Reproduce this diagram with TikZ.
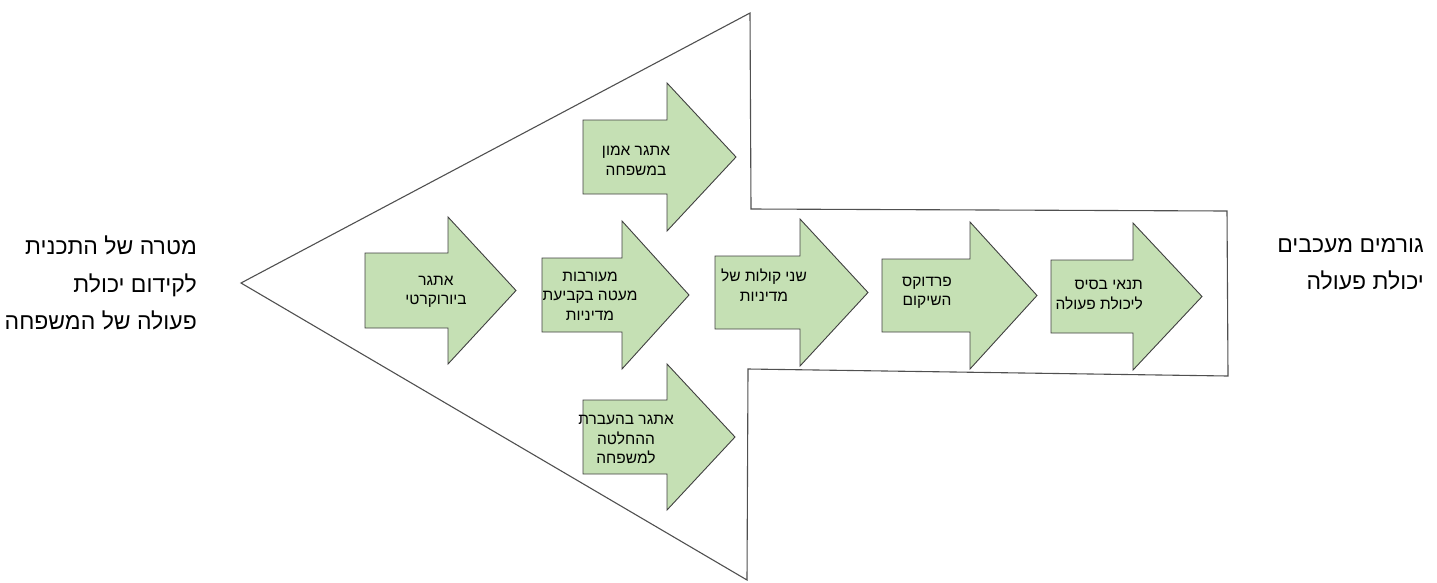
\documentclass[tikz,border=0pt]{standalone}
\usepackage{fontspec}
\TeXXeTstate=1
\newfontfamily\hebfont[Script=Hebrew]{Liberation Sans}
\newcommand{\heb}[1]{{\hebfont\beginR #1\endR}}
\definecolor{arrowgreen}{HTML}{C5E0B4}
\definecolor{arrowline}{HTML}{404040}
\definecolor{outlinegray}{HTML}{505050}
\tikzset{
  blockarrow/.style={fill=arrowgreen, draw=arrowline, line width=0.9pt, line join=miter},
  bigoutline/.style={draw=outlinegray, line width=1.1pt, line join=miter},
  intext/.style={inner sep=0pt, align=center, font=\hebfont\fontsize{15.5}{19.5}\selectfont},
  sidetext/.style={inner sep=0pt, align=right, anchor=east, font=\hebfont\fontsize{23}{37.5}\selectfont}
}
% #1 left, #2 head start, #3 tip, #4 top, #5 body top, #6 body bottom, #7 bottom
\newcommand{\barrow}[7]{%
  \path[blockarrow] (#1,#5) -- (#2,#5) -- (#2,#4) -- (#3,{(#4+#7)/2}) -- (#2,#7) -- (#2,#6) -- (#1,#6) -- cycle;}
\begin{document}
\begin{tikzpicture}[x=1pt,y=-1pt]
\useasboundingbox (0,0) rectangle (1437,582);
% big outline arrow
\coordinate (tip) at (241,283);
\coordinate (topv) at (750,13);
\coordinate (topin) at (751,209);
\coordinate (tr) at (1227,211);
\coordinate (br) at (1228,376);
\coordinate (botin) at (748,369);
\coordinate (botv) at (747,580);
\path[bigoutline] (tip) -- (topv) -- (topin) -- (tr) -- (br) -- (botin) -- (botv) -- cycle;
% block arrows
\barrow{365}{448}{516}{217}{253}{328}{364}
\barrow{542}{622}{689}{221}{258}{332}{369}
\barrow{583}{667}{736}{83}{120}{194}{231}
\barrow{583}{667}{735}{364}{400}{474}{510}
\barrow{715}{800}{868}{219}{256}{329}{366}
\barrow{882}{970}{1037}{222}{259}{332}{369}
\barrow{1051}{1133}{1202}{223}{260}{333}{370}
% texts
\node[intext] (t1) at (436,292) {\heb{אתגר}\\\heb{ביורוקרטי}};
\node[intext] (t2) at (590,296) {\heb{מעורבות}\\\heb{מעטה בקביעת}\\\heb{מדיניות}};
\node[intext] (t3) at (636,161) {\heb{אתגר אמון}\\\heb{במשפחה}};
\node[intext] (t4) at (626,440) {\heb{אתגר בהעברת}\\\heb{ההחלטה}\\\heb{למשפחה}};
\node[intext] (t5) at (764,285) {\heb{שני קולות של}\\\heb{מדיניות}};
\node[intext] (t6) at (927,293) {\heb{פרדוקס}\\\heb{השיקום}};
\node[intext, align=right, anchor=east] (t7) at (1143,295) {\heb{תנאי בסיס}\\\heb{ליכולת פעולה}};
\node[sidetext] (goal) at (197,283) {\heb{מטרה של התכנית}\\\heb{לקידום יכולת}\\\heb{פעולה של המשפחה}};
\node[sidetext] (barriers) at (1424,264) {\heb{גורמים מעכבים}\\\heb{יכולת פעולה}};
\end{tikzpicture}
\end{document}
